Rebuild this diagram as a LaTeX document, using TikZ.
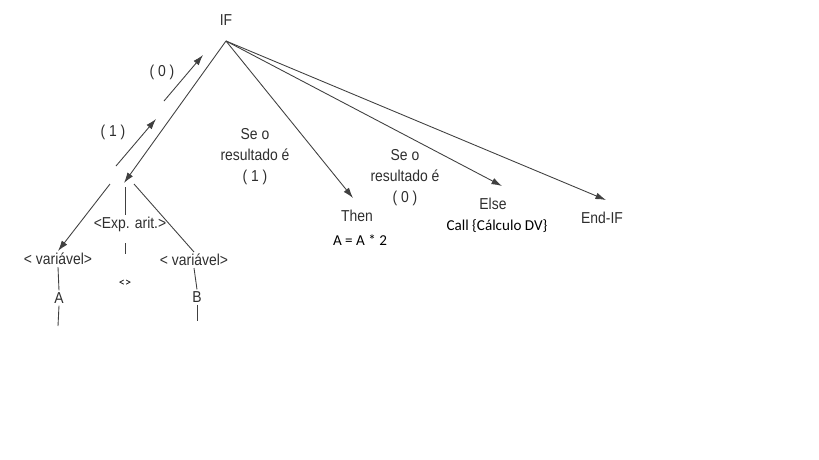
\documentclass[tikz,border=0pt]{standalone}
\usepackage{fontspec}
\setmainfont{Liberation Sans}[FakeStretch=0.88]
\newfontfamily\calfont{Carlito}
\usetikzlibrary{arrows.meta}
\tikzset{
  lbl/.style={text=black!82, font=\fontsize{9}{12}\selectfont, inner sep=1pt, align=center},
  note/.style={text=black, font=\calfont\fontsize{8.6}{10}\selectfont, inner sep=1pt},
  edge/.style={draw=black!75, line width=0.5pt},
  arr/.style={edge, -{Latex[length=6pt,width=3.8pt]}}
}

\begin{document}
\begin{tikzpicture}[x=0.02cm,y=-0.02cm]
\useasboundingbox (0,0) rectangle (819,460);
% root of the tree
\node[lbl] (if) at (226,20) {IF};
\coordinate (apex) at (226,41);
\coordinate (cmp) at (124,183);
\draw[arr] (apex) -- (cmp);
% result going back up
\coordinate (up0a) at (164,101); \coordinate (up0b) at (203,55);
\coordinate (up1a) at (116,166); \coordinate (up1b) at (156,119);
\draw[arr] (up0a) -- (up0b);
\draw[arr] (up1a) -- (up1b);
\node[lbl] (r0) at (162,72) {( 0 )};
\node[lbl] (r1) at (113,132) {( 1 )};
% comparison
\coordinate (cl) at (110,184); \coordinate (cm) at (125,187); \coordinate (cr) at (134,184);
\node[lbl] (exp) at (130,224) {<Exp. arit.>};
\node[lbl] (varA) at (58,259) {< variável>};
\node[lbl] (varB) at (194,260) {< variável>};
\draw[arr] (cl) -- (varA.north);
\draw[edge] (cm) -- (exp.north -| cm);
\draw[edge] (cr) -- (varB.north);
\coordinate (opa) at (125,243); \coordinate (opb) at (125,254);
\draw[edge] (opa) -- (opb);
\node[note, font=\calfont\fontsize{7}{8}\selectfont] (op) at (125,283) {<>};
\node[lbl] (a) at (59,298) {A};
\node[lbl] (b) at (197,297) {B};
\draw[edge] (varA.south) -- (a.north);
\draw[edge] (varB.south) -- (b.north);
\coordinate (aend) at (58,326); \coordinate (bend) at (197,321);
\draw[edge] (a.south) -- (aend);
\draw[edge] (b.south) -- (bend);
% branches
\node[lbl] (se1) at (255,157) {Se o\\resultado é\\( 1 )};
\node[lbl] (se0) at (405,178) {Se o\\resultado é\\( 0 )};
\node[lbl] (then) at (357,216) {Then};
\node[lbl] (else) at (493,204) {Else};
\node[lbl] (endif) at (602,218) {End-IF};
\node[note] (thenact) at (360,240) {A = A * 2};
\node[note] (elseact) at (497,226) {Call \{Cálculo DV\}};
\coordinate (tthen) at (353,198);
\coordinate (telse) at (502,186);
\coordinate (tend) at (606,200);
\draw[arr] (apex) -- (tthen);
\draw[arr] (apex) -- (telse);
\draw[arr] (apex) -- (tend);
\end{tikzpicture}
\end{document}
